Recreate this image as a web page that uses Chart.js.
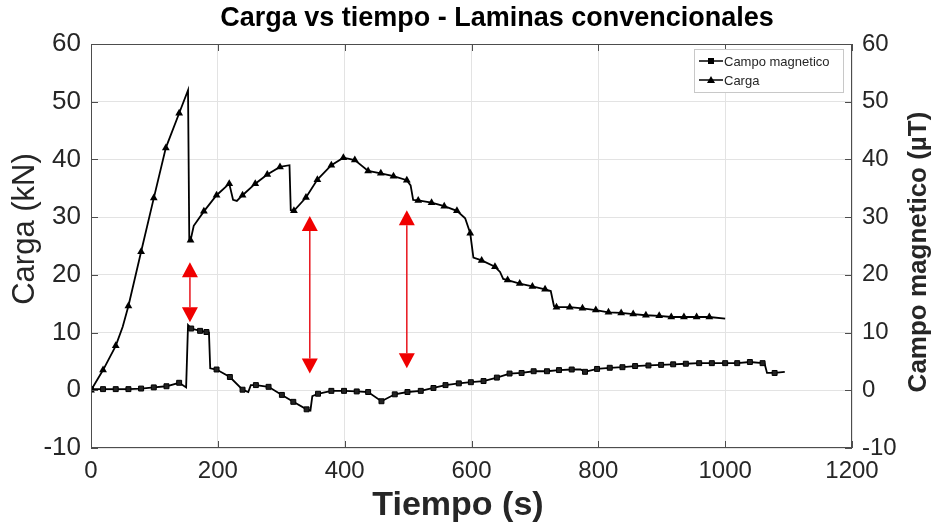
<!DOCTYPE html>
<html>
<head>
<meta charset="utf-8">
<script src="https://cdn.jsdelivr.net/npm/chart.js@4/dist/chart.umd.min.js"></script>
<style>
  html, body { margin: 0; padding: 0; background: #fff; }
  #wrap { width: 932px; height: 522px; }
</style>
</head>
<body>
<div id="wrap"><canvas id="c" width="932" height="522"></canvas></div>
<script>
// Carga (kN) vs tiempo
const cargaT = [0, 19, 39, 50, 59, 79, 99, 118, 139, 153, 155, 157, 162, 178, 198, 218, 224, 230, 239, 259, 278, 298, 313, 315, 320, 339, 357, 379, 398, 416, 437, 457, 477, 498, 504, 508, 516, 537, 557, 577, 590, 598, 603, 616, 637, 645, 650, 657, 676, 696, 716, 725, 730, 734, 755, 775, 796, 816, 836, 855, 875, 896, 915, 935, 955, 975, 1000];
const cargaV = [0, 3.5, 7.7, 11, 14.6, 24, 33.3, 42, 48, 52, 26, 26, 28.5, 31, 33.8, 35.8, 33, 32.8, 33.8, 35.8, 37.4, 38.7, 39, 31.2, 31.1, 33.4, 36.5, 39, 40.3, 39.9, 38, 37.6, 37.1, 36.4, 35.5, 33, 32.9, 32.5, 31.9, 31.1, 29.8, 27.2, 23, 22.5, 21.4, 20.5, 19.3, 19.1, 18.5, 18, 17.5, 17.2, 14.6, 14.4, 14.4, 14.2, 13.9, 13.5, 13.4, 13.2, 13.0, 12.9, 12.7, 12.7, 12.7, 12.7, 12.4];
const cargaMark = [1, 1, 1, 0, 1, 1, 1, 1, 1, 0, 0, 1, 0, 1, 1, 1, 0, 0, 1, 1, 1, 1, 0, 0, 1, 1, 1, 1, 1, 1, 1, 1, 1, 1, 0, 0, 1, 1, 1, 1, 0, 1, 0, 1, 1, 0, 0, 1, 1, 1, 1, 0, 0, 1, 1, 1, 1, 1, 1, 1, 1, 1, 1, 1, 1, 1, 0];

// Campo magnetico (uT) vs tiempo
const campoT = [0, 19, 39, 59, 79, 99, 119, 139, 150, 153, 158, 172, 182, 186, 188, 198, 219, 239, 248, 252, 260, 280, 301, 319, 340, 346, 349, 358, 379, 399, 419, 437, 458, 479, 499, 520, 540, 559, 580, 599, 619, 640, 660, 679, 698, 719, 738, 758, 772, 779, 798, 818, 838, 858, 879, 899, 918, 938, 959, 979, 1000, 1019, 1039, 1059, 1062, 1066, 1078, 1094];
const campoV = [0.2, 0.2, 0.2, 0.2, 0.3, 0.5, 0.7, 1.3, 0.5, 11.3, 10.7, 10.3, 10.1, 10, 3.8, 3.6, 2.3, 0.1, -0.3, 0.9, 0.9, 0.6, -0.8, -2.0, -3.3, -3.5, -1, -0.6, -0.1, -0.1, -0.2, -0.3, -1.9, -0.7, -0.3, -0.1, 0.4, 0.9, 1.2, 1.4, 1.6, 2.2, 2.9, 3.0, 3.3, 3.3, 3.5, 3.6, 3.6, 3.2, 3.7, 3.9, 4.0, 4.2, 4.3, 4.4, 4.5, 4.6, 4.7, 4.7, 4.7, 4.7, 4.9, 4.7, 4.7, 3.0, 3.0, 3.2];
const campoMark = [1, 1, 1, 1, 1, 1, 1, 1, 0, 0, 1, 1, 1, 0, 0, 1, 1, 1, 0, 0, 1, 1, 1, 1, 1, 0, 0, 1, 1, 1, 1, 1, 1, 1, 1, 1, 1, 1, 1, 1, 1, 1, 1, 1, 1, 1, 1, 1, 0, 1, 1, 1, 1, 1, 1, 1, 1, 1, 1, 1, 1, 1, 1, 1, 0, 0, 1, 0];

// red arrows (annotation)
const arrowT = [156, 345, 498];
const arrowTop = [22.2, 30.2, 31.2];
const arrowBottom = [11.8, 2.9, 3.8];

const xTicks = [0, 200, 400, 600, 800, 1000, 1200];
const yTicks = [-10, 0, 10, 20, 30, 40, 50, 60];

const FONT = '"Liberation Sans", Arial, sans-serif';
const TXT = '#262626';

const pts = (t, v) => t.map((x, i) => ({ x: x, y: v[i] }));

const textPlugin = {
    id: 'texts',
    afterDraw(chart) {
        const ctx = chart.ctx;
        ctx.save();
        ctx.textAlign = 'center';
        ctx.textBaseline = 'middle';
        ctx.fillStyle = '#000';
        ctx.font = 'bold 27px ' + FONT;
        ctx.fillText('Carga vs tiempo - Laminas convencionales', 497, 19);
        ctx.fillStyle = TXT;
        ctx.font = 'bold 34px ' + FONT;
        ctx.fillText('Tiempo (s)', 458, 506);
        // left axis title
        ctx.save();
        ctx.font = '31px ' + FONT;
        ctx.translate(25, 229);
        ctx.rotate(-Math.PI / 2);
        ctx.fillText('Carga (kN)', 0, 0);
        ctx.restore();
        // right axis title, reading bottom to top
        ctx.font = 'bold 26px ' + FONT;
        ctx.translate(919, 252);
        ctx.rotate(-Math.PI / 2);
        ctx.fillText('Campo magnetico (µT)', 0, 0);
        ctx.restore();
    }
};

const boxPlugin = {
    id: 'box',
    afterDatasetsDraw(chart) {
        const a = chart.chartArea, ctx = chart.ctx;
        ctx.save();
        ctx.strokeStyle = '#4d4d4d';
        ctx.lineWidth = 1;
        ctx.strokeRect(a.left + 0.5, a.top + 0.5, a.right - a.left - 1, a.bottom - a.top - 1);
        // inward ticks
        const xs = chart.scales.x, ys = chart.scales.y;
        ctx.beginPath();
        xTicks.forEach(v => {
            const px = Math.round(xs.getPixelForValue(v)) + 0.5;
            ctx.moveTo(px, a.bottom); ctx.lineTo(px, a.bottom - 7);
            ctx.moveTo(px, a.top); ctx.lineTo(px, a.top + 7);
        });
        yTicks.forEach(v => {
            const py = Math.round(ys.getPixelForValue(v)) + 0.5;
            ctx.moveTo(a.left, py); ctx.lineTo(a.left + 7, py);
            ctx.moveTo(a.right, py); ctx.lineTo(a.right - 7, py);
        });
        ctx.stroke();

        // arrows
        ctx.strokeStyle = '#e8141c';
        ctx.fillStyle = '#f00000';
        ctx.lineWidth = 1.5;
        arrowT.forEach((t, i) => {
            const px = xs.getPixelForValue(t);
            const p1 = ys.getPixelForValue(arrowTop[i]);
            const p2 = ys.getPixelForValue(arrowBottom[i]);
            const h = 15, w = 8;
            ctx.beginPath();
            ctx.moveTo(px, p1 + h); ctx.lineTo(px, p2 - h);
            ctx.stroke();
            ctx.beginPath();
            ctx.moveTo(px, p1); ctx.lineTo(px - w, p1 + h); ctx.lineTo(px + w, p1 + h); ctx.closePath();
            ctx.fill();
            ctx.beginPath();
            ctx.moveTo(px, p2); ctx.lineTo(px - w, p2 - h); ctx.lineTo(px + w, p2 - h); ctx.closePath();
            ctx.fill();
        });

        // legend
        const lx = 694, ly = 49, lw = 149, lh = 43;
        ctx.fillStyle = '#fff';
        ctx.fillRect(lx, ly, lw, lh);
        ctx.strokeStyle = '#c8c8c8';
        ctx.lineWidth = 1;
        ctx.strokeRect(lx + 0.5, ly + 0.5, lw, lh);
        const rows = [chart.data.datasets[1], chart.data.datasets[0]];
        rows.forEach((ds, i) => {
            const y = ly + 12 + i * 19;
            ctx.strokeStyle = '#000';
            ctx.lineWidth = 1.5;
            ctx.beginPath(); ctx.moveTo(lx + 5, y); ctx.lineTo(lx + 29, y); ctx.stroke();
            ctx.fillStyle = '#000';
            if (ds.pointStyle === 'rect') {
                ctx.fillRect(lx + 14, y - 3, 6, 6);
            } else {
                ctx.beginPath();
                ctx.moveTo(lx + 17, y - 4); ctx.lineTo(lx + 13, y + 3); ctx.lineTo(lx + 21, y + 3); ctx.closePath();
                ctx.fill();
            }
            ctx.fillStyle = TXT;
            ctx.font = '13px ' + FONT;
            ctx.textAlign = 'left';
            ctx.textBaseline = 'middle';
            ctx.fillText(ds.label, lx + 30, y + 1);
        });
        ctx.restore();
    }
};

new Chart(document.getElementById('c'), {
    type: 'line',
    data: {
        datasets: [
            {
                label: 'Carga',
                data: pts(cargaT, cargaV),
                yAxisID: 'y',
                borderColor: '#000',
                backgroundColor: '#000',
                borderWidth: 1.8,
                pointStyle: 'triangle',
                pointRadius: cargaMark.map(m => m ? 4.5 : 0),
                pointBorderWidth: 0,
                tension: 0
            },
            {
                label: 'Campo magnetico',
                data: pts(campoT, campoV),
                yAxisID: 'y2',
                borderColor: '#000',
                backgroundColor: '#222',
                borderWidth: 1.8,
                pointStyle: 'rect',
                pointRadius: campoMark.map(m => m ? 3.5 : 0),
                pointBorderColor: '#000',
                pointBorderWidth: 1,
                tension: 0
            }
        ]
    },
    options: {
        responsive: false,
        animation: false,
        events: [],
        layout: { padding: { top: 44, right: 0, left: 0, bottom: 0 } },
        plugins: {
            legend: { display: false },
            title: { display: false },
            tooltip: { enabled: false }
        },
        scales: {
            x: {
                type: 'linear',
                min: 0, max: 1200,
                afterBuildTicks: s => { s.ticks = xTicks.map(v => ({ value: v })); },
                afterFit: s => { s.height = 74; },
                grid: { color: '#e3e3e3', drawTicks: false, lineWidth: 1 },
                border: { display: false },
                ticks: { color: TXT, font: { family: FONT, size: 24 }, padding: 9, maxRotation: 0, callback: v => String(v) },
                title: { display: false }
            },
            y: {
                position: 'left',
                min: -10, max: 60,
                afterBuildTicks: s => { s.ticks = yTicks.map(v => ({ value: v })); },
                afterFit: s => { s.width = 91; },
                grid: { color: '#e3e3e3', drawTicks: false, lineWidth: 1 },
                border: { display: false },
                ticks: { color: TXT, font: { family: FONT, size: 26 }, padding: 10, callback: v => String(v) },
                title: { display: false }
            },
            y2: {
                position: 'right',
                min: -10, max: 60,
                afterBuildTicks: s => { s.ticks = yTicks.map(v => ({ value: v })); },
                afterFit: s => { s.width = 80; },
                grid: { drawOnChartArea: false, drawTicks: false },
                border: { display: false },
                ticks: { color: TXT, font: { family: FONT, size: 24 }, padding: 10, callback: v => String(v) },
                title: { display: false }
            }
        }
    },
    plugins: [textPlugin, boxPlugin]
});
</script>
</body>
</html>
